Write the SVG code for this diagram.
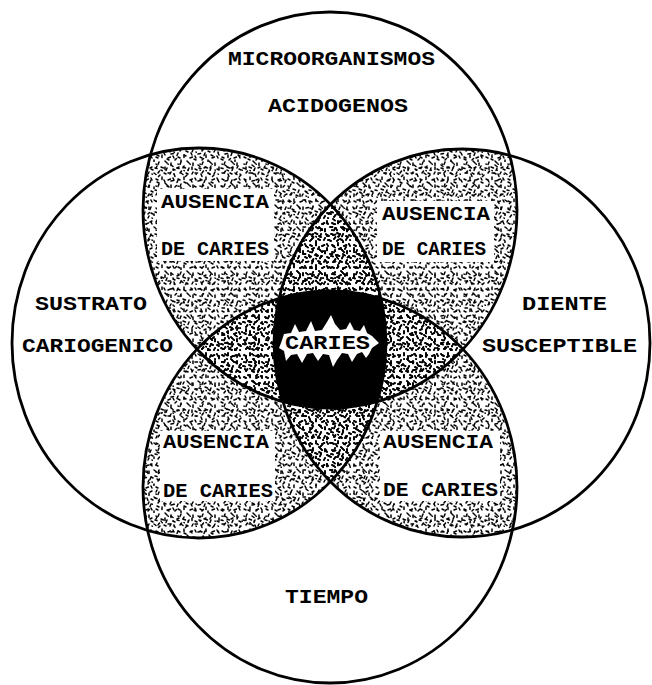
<svg xmlns="http://www.w3.org/2000/svg" xmlns:xlink="http://www.w3.org/1999/xlink" width="652" height="685" viewBox="0 0 652 685">
<style>
.ol{fill:none;stroke:#000;stroke-width:2.8}
.lb{font-family:"Liberation Mono","Courier New",monospace;font-weight:bold;font-size:20px;fill:#000}
.box{fill:#fff;stroke:none}
.mk{stroke:#000;stroke-width:1.5;stroke-linecap:round;fill:none}
</style>
<defs>
<pattern id="p1" width="22" height="22" patternUnits="userSpaceOnUse">
<path class="mk" d="M2,3l2,1M8,1l0,2.5M14,4l2.5,-1M19,2l1,2M5,8l-1,2.5M11,7l2,2M17,9l0,2.5M1,14l2,0.5M7,13l2.5,1M13,14l-1,2.5M19,15l2,1M4,19l1.5,-2M10,19l2,1M16,20l1,-2M20,20l0.3,0.3M8,16.5l0.3,0.3M14,10l0.3,0.3M2,10l0.3,0.3"/>
</pattern>
<pattern id="p2" width="27" height="27" patternUnits="userSpaceOnUse">
<path class="mk" d="M3,5l0,2.5M9,3l2,1.5M15,6l2,-1M22,4l-1,2M6,11l2.5,0M12,12l1,2.5M19,11l2,1.5M25,13l-1.5,1.5M2,18l1,2M9,19l2.5,-0.5M16,18l-1,2.5M22,20l2,1M5,24l2,1M13,25l1.5,-1.5M19,25l0,1.5M26,8l0.3,0.3M11,8l0.3,0.3"/>
</pattern>
<g id="dots"><rect width="652" height="685" fill="url(#p1)"/><rect width="652" height="685" fill="url(#p2)"/></g>
<clipPath id="cT"><ellipse cx="330" cy="210" rx="187" ry="198"/></clipPath>
<clipPath id="cB"><ellipse cx="330" cy="487" rx="187" ry="196"/></clipPath>
<clipPath id="cL"><ellipse cx="199" cy="343" rx="187" ry="195"/></clipPath>
<clipPath id="cR"><ellipse cx="462" cy="343" rx="188" ry="194"/></clipPath>
</defs>
<rect width="652" height="685" fill="#fff"/>
<g id="overlaps">
<g clip-path="url(#cT)"><g clip-path="url(#cL)"><use href="#dots"/></g></g>
<g clip-path="url(#cT)"><g clip-path="url(#cR)"><use href="#dots"/></g></g>
<g clip-path="url(#cB)"><g clip-path="url(#cL)"><use href="#dots"/></g></g>
<g clip-path="url(#cB)"><g clip-path="url(#cR)"><use href="#dots"/></g></g>
<g clip-path="url(#cT)"><g clip-path="url(#cB)"><use href="#dots"/></g></g>
<g clip-path="url(#cL)"><g clip-path="url(#cR)"><use href="#dots"/></g></g>
</g>
<g id="caries-core" clip-path="url(#cT)"><g clip-path="url(#cB)"><g clip-path="url(#cL)"><g clip-path="url(#cR)"><rect x="200" y="250" width="260" height="200" fill="#000"/></g></g></g></g>
<g id="circles">
<ellipse id="c-top" class="ol" cx="330" cy="210" rx="187" ry="198"/>
<ellipse id="c-bottom" class="ol" cx="330" cy="487" rx="187" ry="196"/>
<ellipse id="c-left" class="ol" cx="199" cy="343" rx="187" ry="195"/>
<ellipse id="c-right" class="ol" cx="462" cy="343" rx="188" ry="194"/>
</g>
<g id="n-micro">
<text class="lb" x="228" y="65" textLength="207" lengthAdjust="spacingAndGlyphs">MICROORGANISMOS</text>
<text class="lb" x="268" y="112" textLength="140" lengthAdjust="spacingAndGlyphs">ACIDOGENOS</text>
</g>
<g id="n-sustrato">
<text class="lb" x="35" y="310" textLength="112" lengthAdjust="spacingAndGlyphs">SUSTRATO</text>
<text class="lb" x="22" y="352" textLength="151" lengthAdjust="spacingAndGlyphs">CARIOGENICO</text>
</g>
<g id="n-diente">
<text class="lb" x="522" y="310" textLength="85" lengthAdjust="spacingAndGlyphs">DIENTE</text>
<text class="lb" x="482" y="352" textLength="155" lengthAdjust="spacingAndGlyphs">SUSCEPTIBLE</text>
</g>
<g id="n-tiempo">
<text class="lb" x="285" y="603" textLength="83" lengthAdjust="spacingAndGlyphs">TIEMPO</text>
</g>
<g id="n-aus-tl">
<rect class="box" x="157" y="189" width="117" height="72"/>
<text class="lb" x="161" y="208" textLength="108" lengthAdjust="spacingAndGlyphs">AUSENCIA</text>
<text class="lb" x="161" y="255" textLength="108" lengthAdjust="spacingAndGlyphs">DE CARIES</text>
</g>
<g id="n-aus-tr">
<rect class="box" x="377" y="201" width="117" height="61"/>
<text class="lb" x="382" y="220" textLength="108" lengthAdjust="spacingAndGlyphs">AUSENCIA</text>
<text class="lb" x="382" y="255" textLength="104" lengthAdjust="spacingAndGlyphs">DE CARIES</text>
</g>
<g id="n-aus-bl">
<rect class="box" x="160" y="431" width="115" height="70"/>
<text class="lb" x="163" y="448" textLength="106" lengthAdjust="spacingAndGlyphs">AUSENCIA</text>
<text class="lb" x="163" y="497" textLength="110" lengthAdjust="spacingAndGlyphs">DE CARIES</text>
</g>
<g id="n-aus-br">
<rect class="box" x="380" y="431" width="120" height="70"/>
<text class="lb" x="383" y="448" textLength="110" lengthAdjust="spacingAndGlyphs">AUSENCIA</text>
<text class="lb" x="383" y="496" textLength="115" lengthAdjust="spacingAndGlyphs">DE CARIES</text>
</g>
<g id="n-caries">
<path fill="#fff" d="M281,343L284,334L291,333L295,324L299,332L306,331L311,321L315,331L322,330L327,322L331,315L335,324L340,330L346,329L350,322L354,330L360,331L364,325L367,333L372,336L379,343L372,348L369,354L366,358L362,352L357,354L352,362L348,354L342,353L337,360L333,367L329,355L323,354L318,361L313,353L307,354L302,363L297,354L291,355L286,361L284,351L279,348Z"/>
<text class="lb" x="285" y="349" textLength="85" lengthAdjust="spacingAndGlyphs">CARIES</text>
</g>
</svg>
